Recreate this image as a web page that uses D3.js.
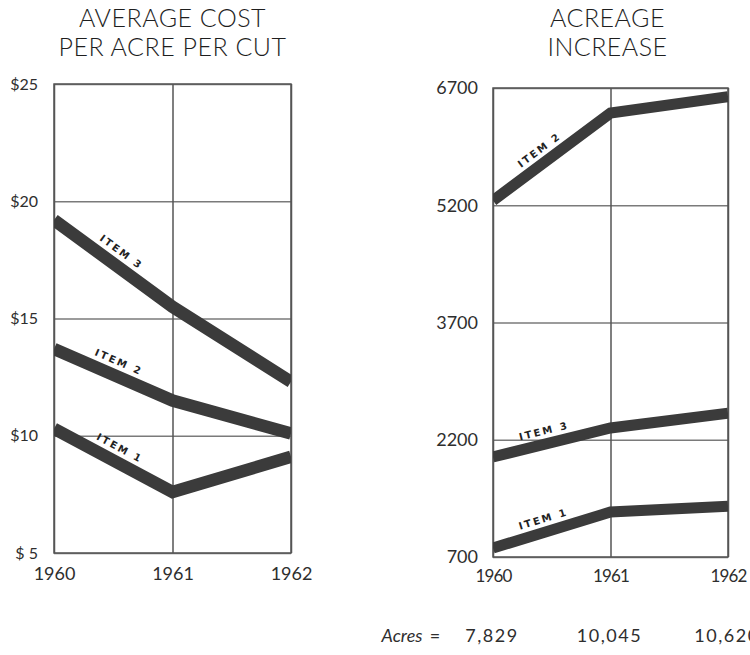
<!DOCTYPE html>
<html>
<head>
<meta charset="utf-8">
<script src="https://cdn.jsdelivr.net/npm/d3@7/dist/d3.min.js"></script>
<style>
  html, body { margin: 0; padding: 0; background: #fff; }
  svg { display: block; }
</style>
</head>
<body>
<svg id="chart" width="750" height="655"></svg>
<script>
// ---------- DATA ----------
const years = [1960, 1961, 1962];
const yearLabels = ["1960", "1961", "1962"];

const costTitle = ["AVERAGE COST", "PER ACRE PER CUT"];
const costTicks = [5, 10, 15, 20, 25];
const costTickLabels = ["$ 5", "$10", "$15", "$20", "$25"];
const costItem1 = [10.3, 7.6, 9.1];
const costItem2 = [13.7, 11.5, 10.1];
const costItem3 = [19.2, 15.5, 12.3];

const acreTitle = ["ACREAGE", "INCREASE"];
const acreTicks = [700, 2200, 3700, 5200, 6700];
const acreTickLabels = ["700", "2200", "3700", "5200", "6700"];
const acreItem1 = [815, 1275, 1350];
const acreItem2 = [5260, 6380, 6590];
const acreItem3 = [1980, 2350, 2540];

const seriesNames = ["ITEM 1", "ITEM 2", "ITEM 3"];
const acresLabel = "Acres";
const acresTotals = ["7,829", "10,045", "10,620"];

// ---------- DRAWING ----------
const svg = d3.select("#chart");
const FONT = "Lato, 'Open Sans', sans-serif";
const INK = "#2e2e2e";
const LINE = "#3b3b3b";
const GRID = "#7a7a7a";

function panel(cfg) {
  const x = d3.scaleLinear().domain([years[0], years[years.length - 1]]).range([cfg.left, cfg.right]);
  const y = d3.scaleLinear().domain([cfg.ticks[0], cfg.ticks[cfg.ticks.length - 1]]).range([cfg.bottom, cfg.top]);
  const w = cfg.right - cfg.left, h = cfg.bottom - cfg.top;
  const g = svg.append("g");

  // title
  const cx = (cfg.left + cfg.right) / 2 + cfg.titleShift;
  g.selectAll("text.title").data(cfg.title).join("text")
    .attr("class", "title")
    .attr("x", cx)
    .attr("y", (d, i) => 27 + i * 29)
    .attr("text-anchor", "middle")
    .attr("font-family", FONT)
    .attr("font-weight", 300)
    .attr("font-size", 25)
    .attr("letter-spacing", 0.5)
    .attr("fill", "#1e1e1e")
    .text(d => d);

  // horizontal gridlines + y labels
  const yAxis = d3.axisLeft(y)
    .tickValues(cfg.ticks)
    .tickFormat((d, i) => cfg.tickLabels[i])
    .tickSize(-w)
    .tickPadding(cfg.yPad);
  const ya = g.append("g").attr("transform", `translate(${cfg.left},0)`).call(yAxis);
  ya.select(".domain").remove();
  ya.selectAll("line").attr("stroke", GRID).attr("stroke-width", 1.4);
  ya.selectAll("text").attr("font-family", FONT).attr("font-size", cfg.yFont).attr("fill", INK);

  // vertical gridlines + x labels
  const xAxis = d3.axisBottom(x)
    .tickValues(years)
    .tickFormat((d, i) => yearLabels[i])
    .tickSize(-h)
    .tickPadding(cfg.xPad);
  const xa = g.append("g").attr("transform", `translate(0,${cfg.bottom})`).call(xAxis);
  xa.select(".domain").remove();
  xa.selectAll("line").attr("stroke", "#555").attr("stroke-width", 1.5);
  xa.selectAll("text").attr("font-family", FONT).attr("font-size", cfg.xFont)
    .attr("letter-spacing", cfg.xSpacing).attr("fill", INK);

  // border
  g.append("rect")
    .attr("x", x(years[0])).attr("y", y(cfg.ticks[cfg.ticks.length - 1]))
    .attr("width", w).attr("height", h)
    .attr("fill", "none").attr("stroke", "#555").attr("stroke-width", 1.5);

  // clip
  const clipId = "clip" + cfg.id;
  svg.append("clipPath").attr("id", clipId).append("rect")
    .attr("x", cfg.left).attr("y", cfg.top).attr("width", w).attr("height", h);

  const line = d3.line().x((d, i) => x(years[i])).y(d => y(d));
  const lg = g.append("g").attr("clip-path", `url(#${clipId})`);
  lg.selectAll("path").data(cfg.series).join("path")
    .attr("d", d => line(d))
    .attr("fill", "none")
    .attr("stroke", LINE)
    .attr("stroke-width", cfg.lineW)
    .attr("stroke-linejoin", "miter")
    .attr("stroke-linecap", "butt");

  // labels along the first segment
  cfg.series.forEach((vals, k) => {
    const x0 = x(years[0]), y0 = y(vals[0]), x1 = x(years[1]), y1 = y(vals[1]);
    const dx = x1 - x0, dy = y1 - y0, len = Math.hypot(dx, dy);
    const ux = dx / len, uy = dy / len;
    const t = cfg.labelT;
    const off = cfg.labelOff;
    const px = x0 + t * dx + off * uy;
    const py = y0 + t * dy - off * ux;
    const ang = Math.atan2(dy, dx) * 180 / Math.PI;
    g.append("text")
      .attr("transform", `translate(${px},${py}) rotate(${ang})`)
      .attr("text-anchor", "middle")
      .attr("dominant-baseline", "central")
      .attr("font-family", "'DejaVu Sans', sans-serif")
      .attr("font-size", 10)
      .attr("font-weight", "bold")
      .attr("letter-spacing", 2.2)
      .attr("fill", "#222")
      .text(seriesNames[k]);
  });
  return { x, y };
}

panel({
  id: "L", left: 54, right: 291, top: 84, bottom: 553, titleShift: 0,
  title: costTitle, ticks: costTicks, tickLabels: costTickLabels,
  yPad: 16, yFont: 16, xPad: 14, xFont: 18, xSpacing: 0, lineW: 12.5,
  series: [costItem1, costItem2, costItem3], labelT: 0.5, labelOff: 14
});

const R = panel({
  id: "R", left: 493, right: 728, top: 88, bottom: 557, titleShift: -3,
  title: acreTitle, ticks: acreTicks, tickLabels: acreTickLabels,
  yPad: 15, yFont: 18, xPad: 13, xFont: 17, xSpacing: -0.8, lineW: 11,
  series: [acreItem1, acreItem2, acreItem3], labelT: 0.46, labelOff: 13
});

// Acres totals row
svg.append("text")
  .attr("x", 402).attr("y", 642)
  .attr("text-anchor", "middle")
  .attr("font-family", FONT).attr("font-size", 18).attr("font-style", "italic")
  .attr("fill", INK).text(acresLabel);
svg.append("text")
  .attr("x", 435).attr("y", 642)
  .attr("text-anchor", "middle")
  .attr("font-family", FONT).attr("font-size", 18)
  .attr("fill", INK).text("=");
svg.selectAll("text.tot").data(acresTotals).join("text")
  .attr("class", "tot")
  .attr("x", (d, i) => R.x(years[i]) - 1)
  .attr("y", 642)
  .attr("text-anchor", "middle")
  .attr("font-family", FONT).attr("font-size", 18).attr("letter-spacing", 1.5)
  .attr("fill", INK).text(d => d);
</script>
</body>
</html>
